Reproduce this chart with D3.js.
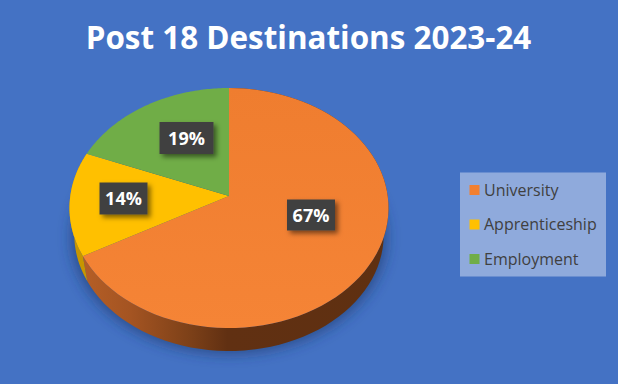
<!DOCTYPE html>
<html><head><meta charset="utf-8">
<script src="https://cdn.jsdelivr.net/npm/d3@7/dist/d3.min.js"></script>
<style>html,body{margin:0;padding:0;background:#4472c4}svg{display:block}</style>
</head><body><svg id="c" width="618" height="384"></svg>
<script>
const titleText = "Post 18 Destinations 2023-24";
const categories = ["University", "Apprenticeship", "Employment"];
const values = [67, 14, 19];
const colors = ["#f27f30", "#ffc000", "#70ad47"];
const labelBoxes = [[287,199.5,48,31],[99.5,182.5,48,32],[159.5,122,54,32]];

const W = 618, H = 384;
const svg = d3.select("#c");
const defs = svg.append("defs");
svg.append("rect").attr("width",W).attr("height",H).attr("fill","#4472c4");

// perspective disc projection: unit disc -> screen
const apex = {x:229, y:196}, persp = -0.1, sx = 158.7, sy = 118.8;
function project(a, r=1){
  const u = Math.sin(a)*r, v = -Math.cos(a)*r, d = 1 + persp*v;
  return [apex.x + sx*u/d, apex.y + sy*v/d];
}
// lower rim of the extruded disc
const rimCy = 208, depthScale = 0.97, depthShift = 26.6;
function lower(p){ return [apex.x + (p[0]-apex.x)*depthScale, rimCy + (p[1]-rimCy)*depthScale + depthShift]; }

const pie = d3.pie().sort(null).startAngle(0).endAngle(2*Math.PI);
const arcs = pie(values);
const line = d3.line();
const sample = (a,b) => d3.range(0,81).map(i => a + (b-a)*i/80);

// soft shadow
const blur = defs.append("filter").attr("id","soft").attr("x","-20%").attr("y","-20%").attr("width","140%").attr("height","140%");
blur.append("feGaussianBlur").attr("stdDeviation",7);
svg.append("path").attr("filter","url(#soft)").attr("fill","#1d3768").attr("fill-opacity",0.62)
  .attr("d", line(sample(0,2*Math.PI).map(a=>{const p=lower(project(a));return [apex.x+(p[0]-apex.x)*1.02,p[1]+3];}))+"Z");

// wall gradients
function wallGrad(id, stops){
  const g = defs.append("linearGradient").attr("id",id).attr("gradientUnits","userSpaceOnUse")
    .attr("x1",85).attr("x2",388).attr("y1",0).attr("y2",0);
  stops.forEach(s=>g.append("stop").attr("offset",s[0]).attr("stop-color",s[1]));
}
wallGrad("wall0",[[0,"#b45e26"],[0.15,"#a45422"],[0.35,"#7c4018"],[0.47,"#613012"],[1,"#5f3011"]]);

// side walls: visible part of the orange and yellow slices
const wallFill = ["url(#wall0)","#c79600",null];
arcs.forEach((d,i)=>{
  if(!wallFill[i]) return;
  const top = sample(d.startAngle,d.endAngle).map(a=>project(a));
  const bottom = top.map(lower).reverse();
  svg.append("path").attr("fill",wallFill[i]).attr("d",line(top.concat(bottom))+"Z");
});

// top faces
const topGrad = defs.append("linearGradient").attr("id","top0").attr("x1",0).attr("x2",0).attr("y1",0).attr("y2",1);
topGrad.append("stop").attr("offset",0).attr("stop-color","#ef7d2f");
topGrad.append("stop").attr("offset",1).attr("stop-color","#f58436");
arcs.forEach((d,i)=>{
  const rim = sample(d.startAngle,d.endAngle).map(a=>project(a));
  svg.append("path").attr("fill", i===0?"url(#top0)":colors[i])
    .attr("d",line([[apex.x,apex.y]].concat(rim))+"Z");
});

// data labels
const ds = defs.append("filter").attr("id","boxShadow").attr("x","-30%").attr("y","-30%").attr("width","170%").attr("height","170%");
ds.append("feDropShadow").attr("dx",3).attr("dy",3).attr("stdDeviation",2.5).attr("flood-color","#000").attr("flood-opacity",0.5);
arcs.forEach((d,i)=>{
  const [x,y,w,h] = labelBoxes[i];
  svg.append("rect").attr("x",x).attr("y",y).attr("width",w).attr("height",h).attr("fill","#404040").attr("filter","url(#boxShadow)");
  svg.append("text").attr("x",x+w/2).attr("y",y+h/2+6.8).attr("text-anchor","middle")
    .attr("font-family","'Open Sans'").attr("font-weight",700).attr("font-size",18).attr("fill","#fff")
    .text(d3.format(".0%")(d.data/d3.sum(values)));
});

// title
svg.append("text").attr("x",308.5).attr("y",49).attr("text-anchor","middle")
  .attr("font-family","'Open Sans'").attr("font-weight",700).attr("font-size",31.4).attr("fill","#fff").text(titleText);

// legend
svg.append("rect").attr("x",460).attr("y",172.5).attr("width",146).attr("height",104).attr("fill","#8faadc");
const legendY = d3.scalePoint().domain(categories).range([190,259]);
categories.forEach((c,i)=>{
  const y = legendY(c);
  svg.append("rect").attr("x",469.5).attr("y",y-5).attr("width",10).attr("height",10).attr("fill",colors[i]);
  svg.append("text").attr("x",484).attr("y",y+5.5).attr("font-family","'Open Sans'").attr("font-size",16).attr("fill","#404040").text(c);
});
</script></body></html>
